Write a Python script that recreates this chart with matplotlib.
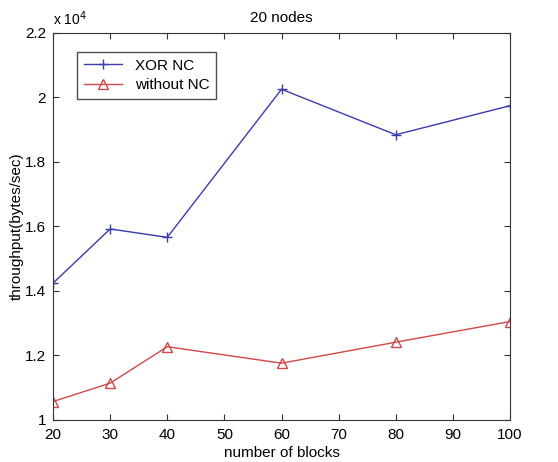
import numpy as np
import matplotlib.pyplot as plt

plt.rcParams['font.family'] = ['Liberation Sans', 'DejaVu Sans']

# Throughput for a 20-node network
blocks = [20, 30, 40, 60, 80, 100]
xor_nc = [14240, 15920, 15660, 20250, 18840, 19740]
without_nc = [10570, 11140, 12270, 11760, 12410, 13050]


def main() -> None:
    fig = plt.figure(figsize=(5.58, 4.62), dpi=100)
    ax = fig.add_axes([0.095, 0.091, 0.819, 0.838])

    ax.plot(blocks, xor_nc, '-', marker='+', color='#3b3bb0', lw=1,
            markersize=7, mew=1, label='XOR NC')
    ax.plot(blocks, without_nc, '-', marker='^', color='#d04848', lw=1,
            markersize=7, mew=1, mfc='none', label='without NC')

    ax.set_xlim(20, 100)
    ax.set_ylim(10000, 22000)
    ax.set_xticks(np.arange(20, 101, 10))
    ax.set_yticks(np.arange(10000, 22001, 2000))
    ax.set_yticklabels(['1', '1.2', '1.4', '1.6', '1.8', '2', '2.2'])
    ax.tick_params(direction='in', top=True, right=True, length=4,
                   labelsize=11, color='#333333')
    ax.tick_params(axis='x', pad=6)
    ax.tick_params(axis='y', pad=5)
    for s in ax.spines.values():
        s.set_color('#333333')

    ax.text(0, 1.012, r'x 10$^4$', transform=ax.transAxes, fontsize=10,
            ha='left', va='bottom')
    ax.set_title('20 nodes', fontsize=11, pad=8)
    ax.set_xlabel('number of blocks', fontsize=11, labelpad=3)
    ax.set_ylabel('throughput(bytes/sec)', fontsize=11, labelpad=1)

    leg = ax.legend(loc='upper left', bbox_to_anchor=(0.053, 0.951),
                    borderaxespad=0, fancybox=False, edgecolor='#222222',
                    fontsize=11, handlelength=2.5, borderpad=0.45,
                    labelspacing=0.35)
    leg.get_frame().set_linewidth(1)

    fig.savefig('out.png', dpi=100)


if __name__ == '__main__':
    main()
